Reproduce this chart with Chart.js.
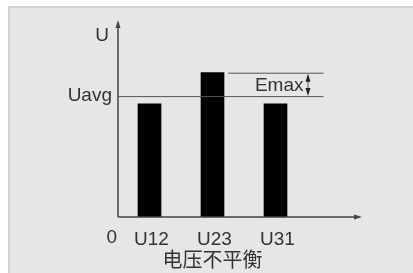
<!DOCTYPE html>
<html>
<head>
<meta charset="utf-8">
<script src="https://cdn.jsdelivr.net/npm/chart.js@4.4.0/dist/chart.umd.min.js"></script>
<style>
  html, body { margin: 0; padding: 0; background: #fff; }
  #wrap { position: relative; width: 413px; height: 273px; overflow: hidden; }
  #panel { position: absolute; left: 8px; top: 6px; right: -4px; bottom: -4px;
    background: #e6e6e6; border: 2px solid #d2d2d2; }
  #myChart { position: absolute; left: 0; top: 0; }
</style>
</head>
<body>
<div id="wrap">
  <div id="panel"></div>
  <canvas id="myChart" width="413" height="273"></canvas>
</div>
<script>
var ctx = document.getElementById('myChart').getContext('2d');

const fases = ["U12", "U23", "U31"]
const tensiones = [5.8, 7.4, 5.8]
const promedio = 6.2
const yMax = 10
const titulo = "电压不平衡"

const txtColor = "#333"
const fuente = "'Liberation Sans', Arial, sans-serif"

function flecha(c, x, y, dir) {
	// pequeÃ±o triangulo relleno
	c.beginPath();
	if (dir == "up") {
		c.moveTo(x, y); c.lineTo(x-2.5, y+8); c.lineTo(x+2.5, y+8);
	} else if (dir == "down") {
		c.moveTo(x, y); c.lineTo(x-2.5, y-8); c.lineTo(x+2.5, y-8);
	} else {
		c.moveTo(x, y); c.lineTo(x-8, y-2.5); c.lineTo(x-8, y+2.5);
	}
	c.closePath();
	c.fill();
}

const dibujoExtra = {
	id: 'dibujoExtra',
	afterDatasetsDraw(chart) {
		const c = chart.ctx;
		const area = chart.chartArea;
		const x = chart.scales.x;
		const y = chart.scales.y;
		const yAvg = y.getPixelForValue(promedio);
		const iMax = tensiones.indexOf(Math.max(...tensiones));
		const yTop = y.getPixelForValue(tensiones[iMax]);
		const bars = chart.getDatasetMeta(0).data;
		const xFin = bars[bars.length-1].x + 48;
		const xIni = bars[iMax].x + bars[iMax].width/2 + 4;
		const xFlecha = xFin - 16;

		c.save();
		// lineas Uavg y Emax
		c.strokeStyle = "#555";
		c.lineWidth = 1;
		c.beginPath();
		c.moveTo(area.left, yAvg + 0.5); c.lineTo(xFin, yAvg + 0.5);
		c.moveTo(xIni, yTop + 0.5); c.lineTo(xFin, yTop + 0.5);
		c.moveTo(xFlecha + 0.5, yTop + 3); c.lineTo(xFlecha + 0.5, yAvg - 3);
		c.stroke();
		c.fillStyle = "#222";
		flecha(c, xFlecha + 0.5, yTop + 1, "up");
		flecha(c, xFlecha + 0.5, yAvg, "down");

		// ejes
		c.strokeStyle = "#444";
		c.lineWidth = 1.5;
		c.beginPath();
		c.moveTo(area.left, area.bottom); c.lineTo(area.left, area.top + 4);
		c.moveTo(area.left, area.bottom); c.lineTo(362 - 4, area.bottom);
		c.stroke();
		c.fillStyle = "#444";
		flecha(c, area.left, area.top - 2, "up");
		flecha(c, 362, area.bottom, "right");

		// textos
		c.fillStyle = txtColor;
		c.font = "19px " + fuente;
		c.textBaseline = "middle";
		c.textAlign = "right";
		c.fillText("Uavg", area.left - 6, yAvg);
		c.fillText("U", area.left - 9, area.top + 14);
		c.fillText("Emax", xFlecha - 4, (yTop + yAvg)/2 + 1);
		c.fillText("0", area.left - 1, 238);
		c.restore();
	}
}

window.graficoTension = new Chart(ctx, {
	type: 'bar',
	data: {
		labels: fases,
		datasets: [{
			label: 'U',
			backgroundColor: '#000',
			data: tensiones,
			barThickness: 23
		}]
	},
	options: {
		responsive: false,
		animation: false,
		layout: { padding: { left: 118, right: 106, top: 22, bottom: 0 } },
		plugins: { legend: { display: false }, tooltip: { enabled: false } },
		scales: {
			x: {
				grid: { display: false, drawTicks: false },
				border: { display: false },
				ticks: {
					color: txtColor,
					font: { family: fuente, size: 19 },
					padding: 11,
					labelOffset: 2
				},
				title: {
					display: true,
					text: titulo,
					color: txtColor,
					font: { family: "'Noto Sans CJK SC', sans-serif", size: 20 },
					padding: { top: 0, bottom: 2 }
				},
				afterFit: function(scale) { scale.height = 56; }
			},
			y: {
				display: false,
				min: 0,
				max: yMax
			}
		}
	},
	plugins: [dibujoExtra]
});
</script>
</body>
</html>
